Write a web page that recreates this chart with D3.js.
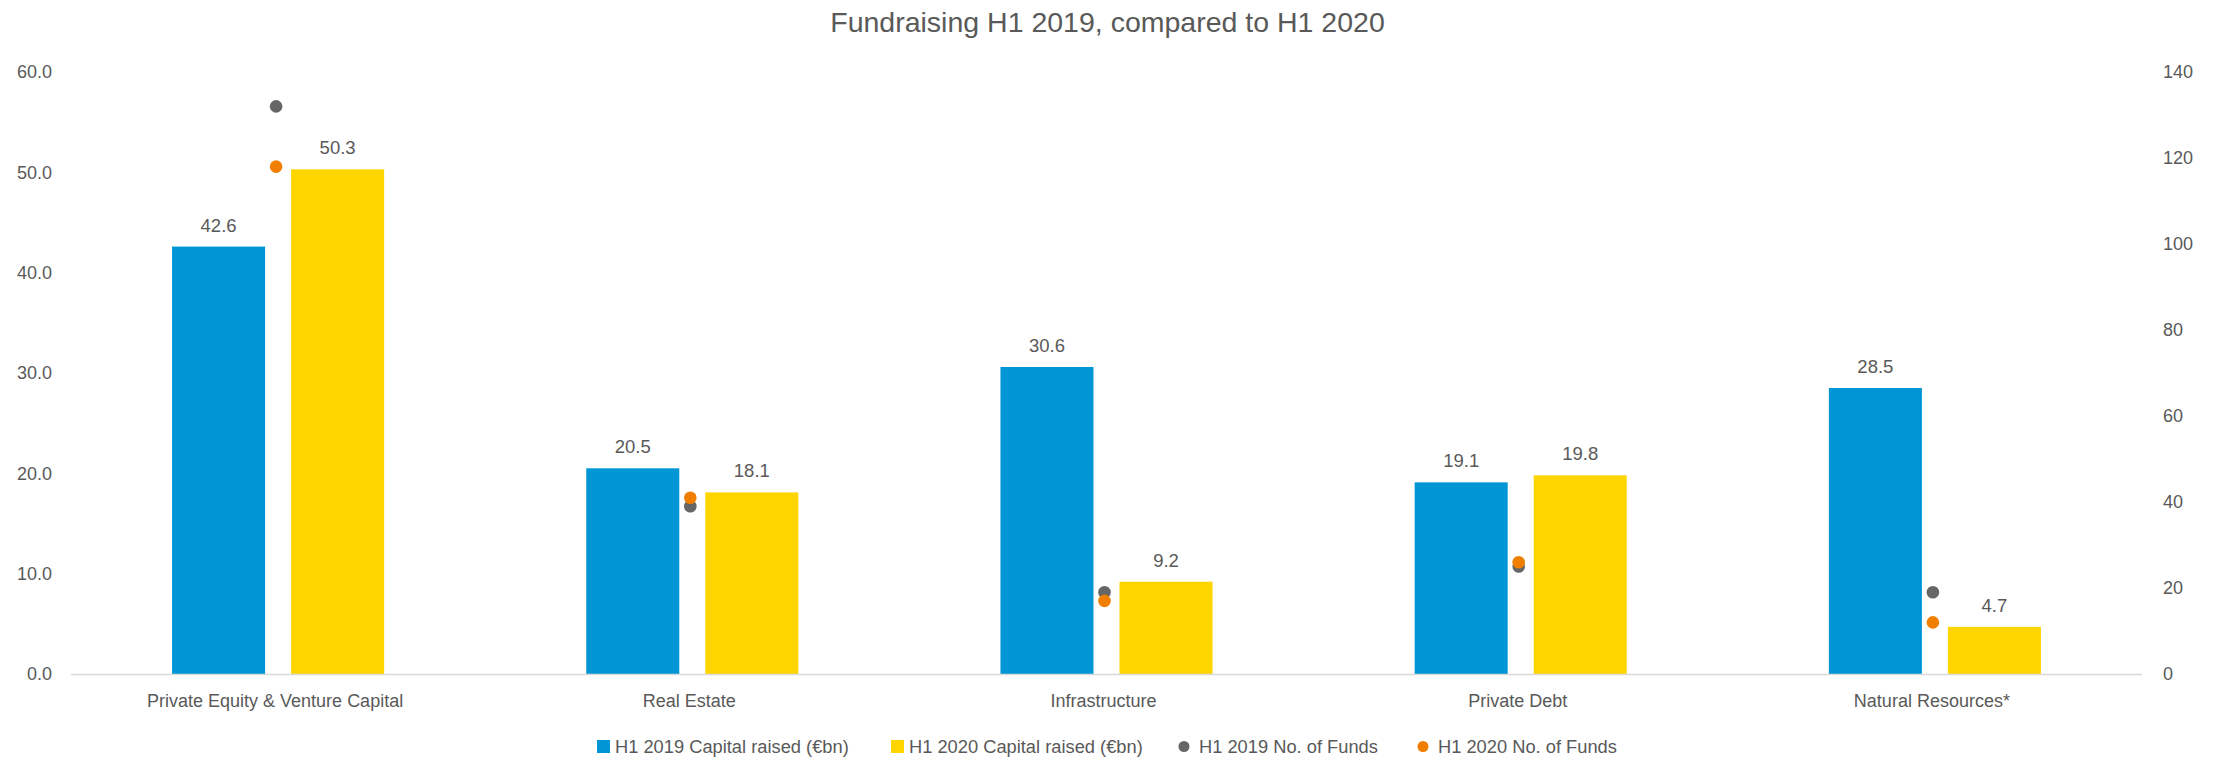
<!DOCTYPE html>
<html>
<head>
<meta charset="utf-8">
<script src="https://cdn.jsdelivr.net/npm/d3@7"></script>
<style>
  html, body { margin: 0; padding: 0; background: #fff; }
  svg { display: block; }
  .narrow { font-family: "Liberation Sans Narrow", "Arial Narrow", "Liberation Sans", Arial, sans-serif; }
</style>
</head>
<body>
<svg id="chart" width="2215" height="762"></svg>
<script>
const categories = ["Private Equity & Venture Capital", "Real Estate", "Infrastructure", "Private Debt", "Natural Resources*"];
const capital2019 = [42.6, 20.5, 30.6, 19.1, 28.5];
const capital2020 = [50.3, 18.1, 9.2, 19.8, 4.7];
const funds2019 = [132, 39, 19, 25, 19];
const funds2020 = [118, 41, 17, 26, 12];
const leftTicks = [0, 10, 20, 30, 40, 50, 60];
const rightTicks = [0, 20, 40, 60, 80, 100, 120, 140];
const seriesNames = ["H1 2019 Capital raised (€bn)", "H1 2020 Capital raised (€bn)", "H1 2019 No. of Funds", "H1 2020 No. of Funds"];
const titleText = "Fundraising H1 2019, compared to H1 2020";

const colors = { c2019: "#0096D6", c2020: "#FFD500", f2019: "#666666", f2020: "#F07F00" };
const textColor = "#595959";

const svg = d3.select("#chart");
const W = 2215;
const plot = { left: 71, right: 2142, top: 72, bottom: 674 };

const x0 = d3.scaleBand().domain(categories).range([plot.left, plot.right]).paddingInner(0).paddingOuter(0);
const bw = x0.bandwidth();
const x1 = d3.scaleBand().domain(["c2019", "c2020"]).range([bw * 0.244, bw * 0.756]).paddingInner(0.2185);
const yL = d3.scaleLinear().domain([0, 60]).range([plot.bottom, plot.top]);
const yR = d3.scaleLinear().domain([0, 140]).range([plot.bottom, plot.top]);

// title
svg.append("text").attr("class", "narrow")
  .attr("x", W / 2).attr("y", 32)
  .attr("text-anchor", "middle")
  .attr("font-size", 28.5).attr("fill", textColor)
  .text(titleText);

// left axis
const gL = svg.append("g")
  .attr("transform", `translate(${plot.left},0)`)
  .call(d3.axisLeft(yL).tickValues(leftTicks).tickFormat(d3.format(".1f")).tickSize(0).tickPadding(19));
gL.select(".domain").remove();
gL.selectAll("text").attr("font-size", 18).attr("fill", textColor).attr("font-family", '"Liberation Sans", Arial, sans-serif');

// right axis
const gR = svg.append("g")
  .attr("transform", `translate(${plot.right},0)`)
  .call(d3.axisRight(yR).tickValues(rightTicks).tickFormat(d3.format("d")).tickSize(0).tickPadding(21));
gR.select(".domain").remove();
gR.selectAll("text").attr("x", 21).attr("text-anchor", "start")
  .attr("font-size", 18).attr("fill", textColor).attr("font-family", '"Liberation Sans", Arial, sans-serif');

// bars
const rows = categories.map((c, i) => ({ cat: c, c2019: capital2019[i], c2020: capital2020[i], f2019: funds2019[i], f2020: funds2020[i] }));
const groups = svg.append("g").selectAll("g").data(rows).join("g")
  .attr("transform", d => `translate(${x0(d.cat)},0)`);

["c2019", "c2020"].forEach(k => {
  groups.append("rect")
    .attr("x", x1(k)).attr("width", x1.bandwidth())
    .attr("y", d => yL(d[k])).attr("height", d => yL(0) - yL(d[k]))
    .attr("fill", colors[k]);
  groups.append("text").attr("class", "narrow")
    .attr("x", x1(k) + x1.bandwidth() / 2)
    .attr("y", d => yL(d[k]) - 15)
    .attr("text-anchor", "middle")
    .attr("font-size", 18.5).attr("fill", textColor)
    .text(d => d3.format(".1f")(d[k]));
});

// x axis line
svg.append("line")
  .attr("x1", plot.left).attr("x2", plot.right)
  .attr("y1", yL(0) + 0.5).attr("y2", yL(0) + 0.5)
  .attr("stroke", "#d9d9d9").attr("stroke-width", 1.5);

// category labels
svg.append("g").selectAll("text").data(categories).join("text")
  .attr("class", "narrow")
  .attr("x", d => x0(d) + bw / 2 - 3)
  .attr("y", 707)
  .attr("text-anchor", "middle")
  .attr("font-size", 18).attr("fill", textColor)
  .text(d => d);

// dots
["f2019", "f2020"].forEach(k => {
  groups.append("circle")
    .attr("cx", bw / 2 - 2)
    .attr("cy", d => yR(d[k]))
    .attr("r", 6.3)
    .attr("fill", colors[k]);
});

// legend
const legend = svg.append("g").attr("class", "narrow");
const keys = ["c2019", "c2020", "f2019", "f2020"];
const legendStarts = [597, 891, 1178, 1417];
const ly = 747;
keys.forEach((k, i) => {
  const lx = legendStarts[i];
  if (i < 2) {
    legend.append("rect").attr("x", lx).attr("y", ly - 7).attr("width", 13).attr("height", 13).attr("fill", colors[k]);
  } else {
    legend.append("circle").attr("cx", lx + 6).attr("cy", ly - 0.5).attr("r", 5.5).attr("fill", colors[k]);
  }
  legend.append("text")
    .attr("x", lx + (i < 2 ? 18 : 21)).attr("y", ly + 6)
    .attr("font-size", 18.3).attr("fill", textColor)
    .text(seriesNames[i]);
});
</script>
</body>
</html>
